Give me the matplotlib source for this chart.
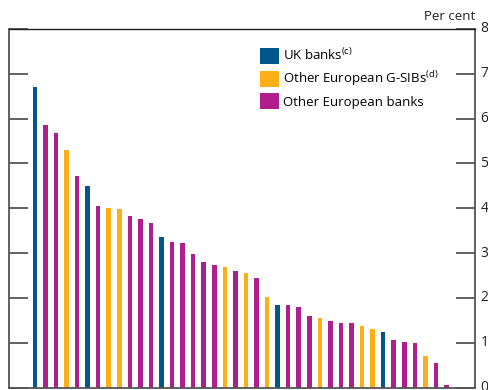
import matplotlib
matplotlib.use("Agg")
import matplotlib.pyplot as plt
from matplotlib.patches import Patch

plt.rcParams['font.family'] = ['Open Sans', 'DejaVu Sans']

values = [6.70, 5.85, 5.67, 5.31, 4.73, 4.49, 4.06, 4.00, 3.99, 3.82,
          3.76, 3.66, 3.35, 3.25, 3.23, 2.97, 2.80, 2.74, 2.70, 2.59,
          2.56, 2.44, 2.03, 1.85, 1.85, 1.80, 1.60, 1.56, 1.49, 1.45,
          1.43, 1.38, 1.30, 1.24, 1.06, 1.02, 1.00, 0.71, 0.55, 0.05]
groups = ['UK', 'Oth', 'Oth', 'GSIB', 'Oth', 'UK', 'Oth', 'GSIB', 'GSIB', 'Oth',
          'Oth', 'Oth', 'UK', 'Oth', 'Oth', 'Oth', 'Oth', 'Oth', 'GSIB', 'Oth',
          'GSIB', 'Oth', 'GSIB', 'UK', 'Oth', 'Oth', 'Oth', 'GSIB', 'Oth', 'Oth',
          'Oth', 'GSIB', 'GSIB', 'UK', 'Oth', 'Oth', 'Oth', 'GSIB', 'Oth', 'Oth']
legend_labels = ['UK banks$^{\\mathregular{(c)}}$', 'Other European G-SIBs$^{\\mathregular{(d)}}$',
                 'Other European banks']
yticks = [0, 1, 2, 3, 4, 5, 6, 7, 8]

colors = {'UK': '#00578A', 'GSIB': '#FCAF17', 'Oth': '#AF1E8C'}

fig = plt.figure(figsize=(4.89, 3.90), dpi=100)
ax = fig.add_axes([9/489, 1 - 387.5/390, (475 - 9)/489, (387.5 - 29)/390])

x = list(range(len(values)))
ax.bar(x, values, width=0.43, color=[colors[g] for g in groups], linewidth=0)

ax.set_xlim(-2.45, 41.7)
ax.set_ylim(0, 8)
ax.set_xticks([])
ax.set_yticks(yticks)
ax.yaxis.tick_right()
ax.tick_params(axis='y', which='both', direction='in', length=14, width=1.3,
               color='#555555', labelsize=10, labelcolor='#222222', pad=4,
               left=True, right=True, labelleft=False, labelright=True)
for lbl in ax.get_yticklabels():
    lbl.set_verticalalignment('center')

for s in ['left', 'right', 'bottom']:
    ax.spines[s].set_color('#555555')
    ax.spines[s].set_linewidth(1.3)
ax.spines['top'].set_color('#222222')
ax.spines['top'].set_linewidth(1.0)

ax.text(1.0, 1.018, 'Per cent', transform=ax.transAxes, ha='right', va='bottom',
        fontsize=9.5, color='#222222')

handles = [Patch(facecolor=colors[k], edgecolor='none') for k in ['UK', 'GSIB', 'Oth']]
ax.legend(handles, legend_labels, loc='upper left', bbox_to_anchor=(0.538, 0.95),
          frameon=False, fontsize=9.5, handlelength=1.45, handleheight=1.5,
          handletextpad=0.3, labelspacing=0.38, borderaxespad=0, borderpad=0)

fig.savefig('out.png', dpi=100)
